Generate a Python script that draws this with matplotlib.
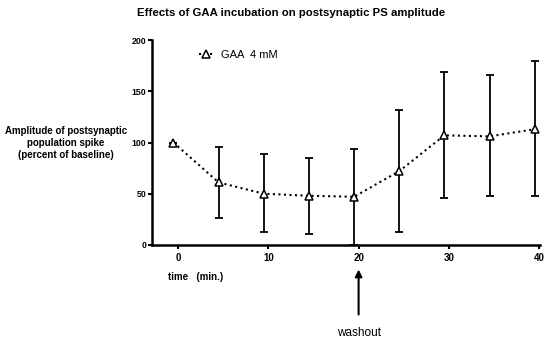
import matplotlib
matplotlib.use("Agg")
import matplotlib.pyplot as plt

plt.rcParams['font.family'] = ['Liberation Sans', 'DejaVu Sans']

# data
time_min = [-0.5, 4.5, 9.5, 14.5, 19.5, 24.5, 29.5, 34.5, 39.5]
amplitude = [100, 61, 50, 48, 47, 72, 107, 106, 113]
err_upper = [100, 96, 89, 85, 94, 132, 169, 166, 180]
err_lower = [100, 26, 13, 11, 0, 13, 46, 48, 48]
x_ticks = [0, 10, 20, 30, 40]
y_ticks = [0, 50, 100, 150, 200]

yerr = [[a - lo for a, lo in zip(amplitude, err_lower)],
        [hi - a for a, hi in zip(amplitude, err_upper)]]

fig = plt.figure(figsize=(5.5, 3.43), dpi=100)
ax = fig.add_axes([0.276, 0.286, 0.706, 0.597])

ax.errorbar(time_min, amplitude, yerr=yerr, fmt='none', ecolor='black',
            elinewidth=1.3, capsize=3, capthick=1.3)
ax.plot(time_min, amplitude, linestyle=':', color='black', linewidth=1.5,
        marker='^', markersize=5.5, markerfacecolor='white',
        markeredgecolor='black', markeredgewidth=1.1, label='GAA  4 mM')

ax.set_xlim(-2.9, 40.1)
ax.set_ylim(0, 200)
ax.set_xticks(x_ticks)
ax.set_yticks(y_ticks)
for lbl in ax.get_xticklabels() + ax.get_yticklabels():
    lbl.set_fontweight('bold')
ax.tick_params(axis='y', labelsize=6.3, width=1.5, length=3, pad=1)
ax.tick_params(axis='x', labelsize=7, width=1.5, length=3, pad=3)
for s in ['top', 'right']:
    ax.spines[s].set_visible(False)
for s in ['left', 'bottom']:
    ax.spines[s].set_linewidth(1.8)

ax.legend(loc='upper left', bbox_to_anchor=(0.095, 1.0), frameon=False,
          fontsize=8, handlelength=1.4, handletextpad=0.6)

fig.text(0.53, 0.963, 'Effects of GAA incubation on postsynaptic PS amplitude',
         ha='center', va='center', fontsize=8.2, fontweight='bold')
fig.text(0.12, 0.583, 'Amplitude of postsynaptic\npopulation spike\n(percent of baseline)',
         ha='center', va='center', fontsize=7.0, fontweight='bold',
         linespacing=1.2)
fig.text(0.305, 0.192, 'time   (min.)', ha='left', va='center',
         fontsize=7, fontweight='bold')

ax.annotate('washout', xy=(20, -24), xytext=(20, -86),
            xycoords='data', textcoords='data', ha='center', va='center',
            fontsize=8.5, annotation_clip=False,
            arrowprops=dict(arrowstyle='-|>', color='black', lw=1.5,
                            mutation_scale=10, shrinkB=0, shrinkA=7))

fig.savefig('out.png', dpi=100)
